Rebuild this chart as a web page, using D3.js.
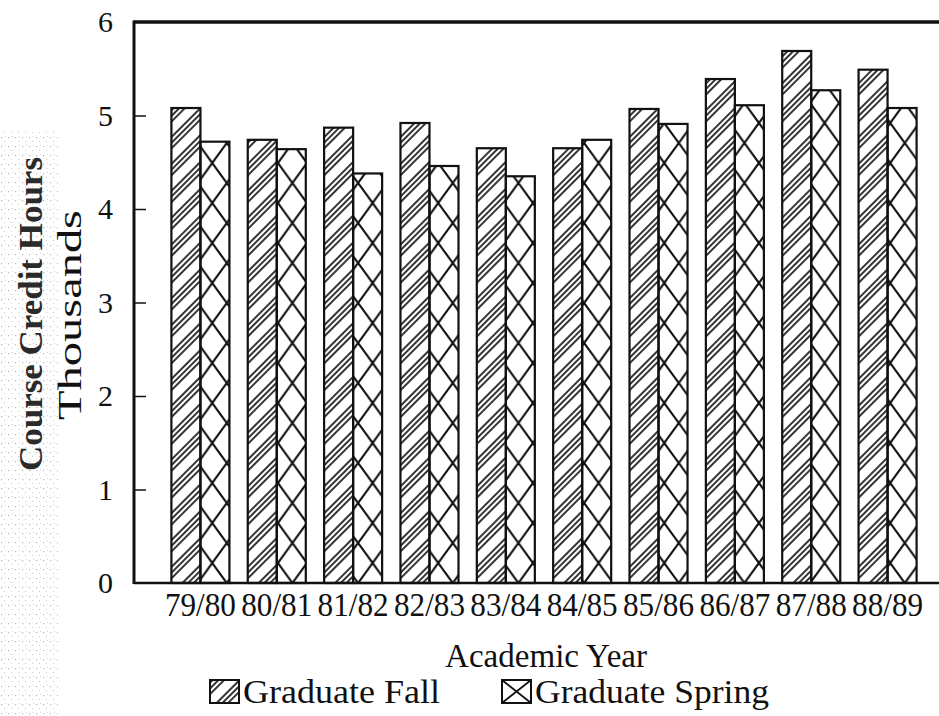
<!DOCTYPE html>
<html lang="en">
  <head>
    <meta charset="utf-8">
    <title>Course Credit Hours</title>
    <script src="https://cdnjs.cloudflare.com/ajax/libs/d3/7.8.5/d3.min.js"></script>
    <style>
      body {
        margin: 0;
        background: #fff;
      }
      text {
        font-family: "Liberation Serif", "DejaVu Serif", serif;
        fill: #111;
      }
    </style>
  </head>
  <body>
    <div id="vis"></div>
<script>
    // values (thousands of hours)
    var years = ['79/80', '80/81', '81/82', '82/83', '83/84', '84/85', '85/86', '86/87', '87/88', '88/89'];
    var fall = [5.08, 4.74, 4.87, 4.92, 4.65, 4.65, 5.07, 5.39, 5.69, 5.49];
    var spring = [4.72, 4.64, 4.38, 4.46, 4.35, 4.74, 4.91, 5.11, 5.27, 5.08];
    var yTicks = [0, 1, 2, 3, 4, 5, 6];
    var seriesNames = ['Graduate Fall', 'Graduate Spring'];

    var width = 939;
    var height = 716;

    var svg = d3.select('#vis')
        .append('svg')
        .attr('width', width)
        .attr('height', height);

    var defs = svg.append('defs');

    // note: "top" is taken by window.top, so plotTop
    var plotLeft = 134, plotTop = 22, plotBottom = 583;

    var x0 = d3.scaleBand()
        .domain(years)
        .range([plotLeft, 954])
        .paddingInner(0.24)
        .paddingOuter(0.49);

    var x1 = d3.scaleBand()
        .domain(['fall', 'spring'])
        .range([0, x0.bandwidth()]);

    var y = d3.scaleLinear()
        .domain([0, 6])
        .range([plotBottom, plotTop]);

    var data = years.map(function(d, i) {
        return {year: d, fall: fall[i], spring: spring[i]};
    });

    // scan speckle on the left margin
    var speck = defs.append('pattern')
        .attr('id', 'speck')
        .attr('patternUnits', 'userSpaceOnUse')
        .attr('width', 7)
        .attr('height', 9);
    speck.append('rect').attr('x', 1).attr('y', 2).attr('width', 1.2).attr('height', 1.2).attr('fill', '#888');
    speck.append('rect').attr('x', 4).attr('y', 6).attr('width', 1).attr('height', 1).attr('fill', '#aaa');
    speck.append('rect').attr('x', 5).attr('y', 1).attr('width', 1).attr('height', 1).attr('fill', '#bbb');

    svg.append('rect')
        .attr('x', 0)
        .attr('y', 130)
        .attr('width', 58)
        .attr('height', 586)
        .attr('fill', 'url(#speck)')
        .attr('opacity', 0.6);

    // fall hatch: groups of three diagonal lines with a gap
    var hatchP = 19;
    var hatch = defs.append('pattern')
        .attr('id', 'fallHatch')
        .attr('patternUnits', 'userSpaceOnUse')
        .attr('width', hatchP)
        .attr('height', hatchP)
        .attr('patternTransform', 'rotate(45)');

    [2, 6, 10].forEach(function(px) {
        hatch.append('line')
            .attr('x1', px).attr('x2', px)
            .attr('y1', 0).attr('y2', hatchP)
            .attr('stroke', '#111')
            .attr('stroke-width', 1.7);
    });

    // spring cross hatch, one pattern per bar so the X lines meet the bar edges
    var crossH = 40;
    data.forEach(function(d, i) {
        var bx = x0(d.year) + x1('spring');
        var bw = x1.bandwidth();
        var p = defs.append('pattern')
            .attr('id', 'cross' + i)
            .attr('patternUnits', 'userSpaceOnUse')
            .attr('x', bx)
            .attr('y', plotBottom)
            .attr('width', bw)
            .attr('height', crossH);
        p.append('line')
            .attr('x1', 0).attr('y1', 0).attr('x2', bw).attr('y2', crossH)
            .attr('stroke', '#111').attr('stroke-width', 2.2);
        p.append('line')
            .attr('x1', bw).attr('y1', 0).attr('x2', 0).attr('y2', crossH)
            .attr('stroke', '#111').attr('stroke-width', 2.2);
    });

    var groups = svg.selectAll('.group')
        .data(data)
        .enter()
        .append('g')
        .attr('class', 'group')
        .attr('transform', function(d) { return 'translate(' + x0(d.year) + ',0)'; });

    groups.append('rect')
        .attr('x', x1('fall'))
        .attr('y', function(d) { return y(d.fall); })
        .attr('width', x1.bandwidth())
        .attr('height', function(d) { return plotBottom - y(d.fall); })
        .attr('fill', 'url(#fallHatch)')
        .attr('stroke', '#111')
        .attr('stroke-width', 2.2);

    groups.append('rect')
        .attr('x', x1('spring'))
        .attr('y', function(d) { return y(d.spring); })
        .attr('width', x1.bandwidth())
        .attr('height', function(d) { return plotBottom - y(d.spring); })
        .attr('fill', function(d, i) { return 'url(#cross' + i + ')'; })
        .attr('stroke', '#111')
        .attr('stroke-width', 2.2);

    // frame: left axis, top rule, baseline
    svg.append('line')
        .attr('x1', plotLeft).attr('x2', plotLeft)
        .attr('y1', plotTop - 1.5).attr('y2', plotBottom + 1)
        .attr('stroke', '#111').attr('stroke-width', 3);
    svg.append('line')
        .attr('x1', plotLeft).attr('x2', width)
        .attr('y1', plotTop).attr('y2', plotTop)
        .attr('stroke', '#111').attr('stroke-width', 3.5);
    svg.append('line')
        .attr('x1', plotLeft).attr('x2', width)
        .attr('y1', plotBottom).attr('y2', plotBottom)
        .attr('stroke', '#111').attr('stroke-width', 2.5);

    // y axis: inward ticks, labels on the left
    var yAxis = d3.axisRight(y)
        .tickValues(yTicks)
        .tickSize(12)
        .tickFormat('');

    var yg = svg.append('g')
        .attr('transform', 'translate(' + plotLeft + ',0)')
        .call(yAxis);
    yg.select('.domain').remove();
    yg.selectAll('.tick line')
        .attr('stroke', '#111')
        .attr('stroke-width', 1.5)
        .filter(function(d) { return d === 0 || d === 6; })
        .remove();

    svg.selectAll('.ylab')
        .data(yTicks)
        .enter()
        .append('text')
        .attr('class', 'ylab')
        .attr('x', 113)
        .attr('y', function(d) { return y(d); })
        .attr('dy', '0.34em')
        .attr('text-anchor', 'end')
        .style('font-size', '30px')
        .text(function(d) { return d; });

    // x labels, condensed like the original typeface
    var xAxis = d3.axisBottom(x0).tickSize(0).tickPadding(0);
    var xg = svg.append('g')
        .attr('transform', 'translate(0,' + plotBottom + ')')
        .call(xAxis);
    xg.select('.domain').remove();
    xg.selectAll('.tick text')
        .attr('y', 33)
        .attr('dy', 0)
        .attr('fill', '#111')
        .attr('textLength', 71)
        .attr('lengthAdjust', 'spacingAndGlyphs')
        .style('font-family', '"Liberation Serif", serif')
        .style('font-size', '33px');

    svg.append('text')
        .attr('x', 546)
        .attr('y', 667)
        .attr('text-anchor', 'middle')
        .attr('textLength', 202)
        .attr('lengthAdjust', 'spacingAndGlyphs')
        .style('font-size', '33px')
        .text('Academic Year');

    // y titles
    svg.append('text')
        .attr('transform', 'translate(42,314) rotate(-90)')
        .attr('text-anchor', 'middle')
        .attr('textLength', 314)
        .attr('lengthAdjust', 'spacingAndGlyphs')
        .style('font-size', '33px')
        .style('font-weight', 'bold')
        .style('fill', '#2a2a2a')
        .text('Course Credit Hours');

    svg.append('text')
        .attr('transform', 'translate(81,315) rotate(-90)')
        .attr('text-anchor', 'middle')
        .attr('textLength', 210)
        .attr('lengthAdjust', 'spacingAndGlyphs')
        .style('font-size', '33px')
        .text('Thousands');

    // legend
    var legendX = [210, 502];
    var legendFill = ['url(#fallHatch)', 'url(#legendCross)'];
    var legendLen = [197, 234];

    var lc = defs.append('pattern')
        .attr('id', 'legendCross')
        .attr('patternUnits', 'objectBoundingBox')
        .attr('patternContentUnits', 'objectBoundingBox')
        .attr('width', 1)
        .attr('height', 1);
    lc.append('path')
        .attr('d', 'M0,0L1,1M1,0L0,1')
        .attr('stroke', '#111')
        .attr('stroke-width', 0.07);

    var legend = svg.selectAll('.legend')
        .data(seriesNames)
        .enter()
        .append('g')
        .attr('class', 'legend')
        .attr('transform', function(d, i) { return 'translate(' + legendX[i] + ',680)'; });

    legend.append('rect')
        .attr('width', 29)
        .attr('height', 23)
        .attr('fill', function(d, i) { return legendFill[i]; })
        .attr('stroke', '#111')
        .attr('stroke-width', 2);

    legend.append('text')
        .attr('x', 33)
        .attr('y', 23)
        .attr('textLength', function(d, i) { return legendLen[i]; })
        .attr('lengthAdjust', 'spacingAndGlyphs')
        .style('font-size', '34px')
        .text(function(d) { return d; });
</script>
  </body>
</html>
